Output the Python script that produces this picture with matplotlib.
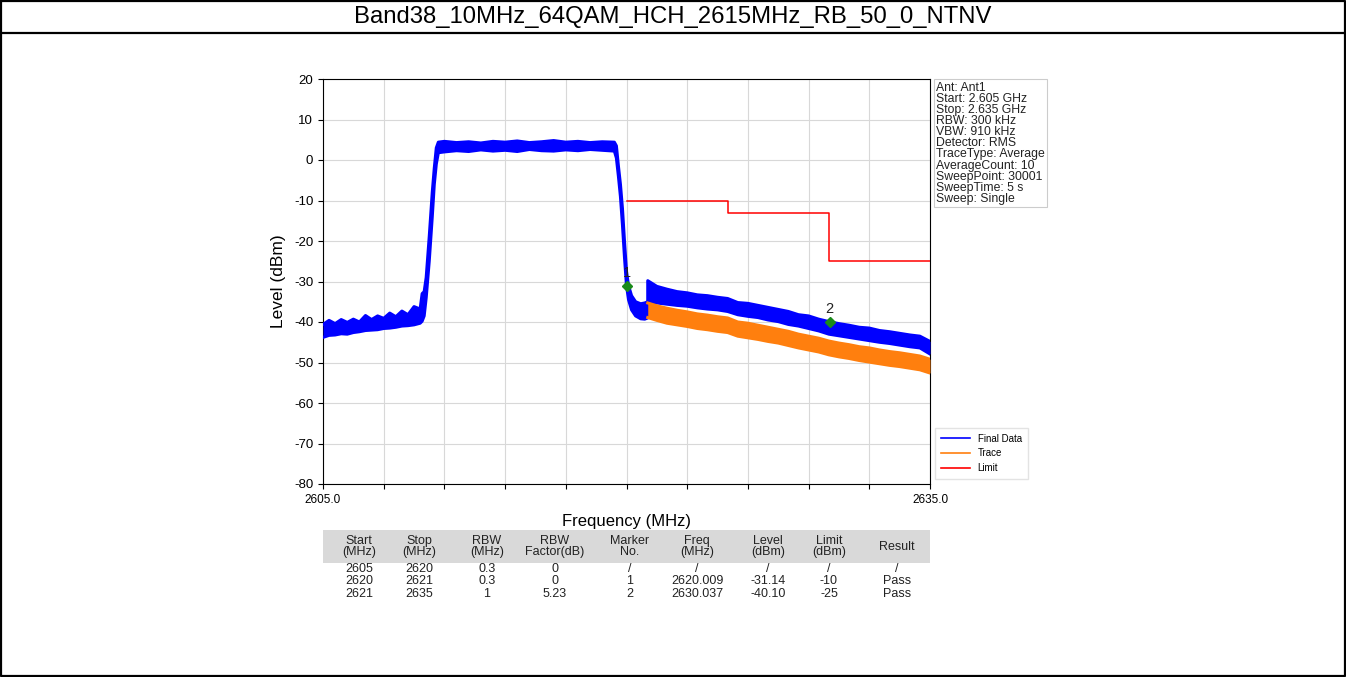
import matplotlib.pyplot as plt
from matplotlib.lines import Line2D
from matplotlib.patches import Rectangle

plt.rcParams['font.family'] = ['Liberation Sans', 'DejaVu Sans']
plt.rcParams['axes.unicode_minus'] = False

title = "Band38_10MHz_64QAM_HCH_2615MHz_RB_50_0_NTNV"

# Final Data: band envelope (upper / lower) of the measured spectrum
fd_freq = [2605.0, 2605.3, 2605.6, 2605.9, 2606.2, 2606.5, 2606.8, 2607.1, 2607.4,
           2607.7, 2608.0, 2608.3, 2608.6, 2608.9, 2609.2, 2609.5, 2609.8,
           2609.9, 2610.0, 2610.1, 2610.25, 2610.4, 2610.5, 2610.6, 2610.7,
           2611.0, 2611.6, 2612.2, 2612.8, 2613.4, 2614.0, 2614.6, 2615.2, 2615.8,
           2616.4, 2617.0, 2617.6, 2618.2, 2618.8, 2619.4,
           2619.5, 2619.6, 2619.7, 2619.8, 2619.9, 2620.0, 2620.1, 2620.25, 2620.45,
           2620.7, 2620.9, 2621.05,
           2621.05, 2621.5, 2622.0, 2622.5, 2623.0, 2623.5, 2624.0, 2624.5, 2625.0,
           2625.5, 2626.0, 2626.5, 2627.0, 2627.5, 2628.0, 2628.5, 2629.0, 2629.5,
           2630.0, 2630.5, 2631.0, 2631.5, 2632.0, 2632.5, 2633.0, 2633.5, 2634.0,
           2634.5, 2635.0]
fd_upper = [-40.6, -39.6, -40.4, -39.4, -40.1, -39.3, -40.0, -38.4, -39.4,
            -38.5, -39.1, -37.8, -38.7, -37.3, -38.2, -36.2, -36.8,
            -33.0, -32.5, -29.0, -19.0, -8.0, -2.0, 3.0, 4.4,
            4.6, 4.3, 4.5, 4.2, 4.6, 4.4, 4.7, 4.3, 4.5,
            4.8, 4.4, 4.6, 4.3, 4.5, 4.4,
            3.5, -1.5, -6.0, -12.0, -20.0, -27.5, -31.0, -33.5, -35.0,
            -35.5, -35.3, -35.0,
            -29.8, -31.2, -31.9, -32.5, -32.8, -33.3, -33.5, -33.9, -34.2,
            -35.2, -35.4, -35.9, -36.4, -36.9, -37.4, -38.2, -38.5, -39.3,
            -39.9, -40.4, -40.8, -41.3, -41.5, -42.1, -42.4, -42.8, -43.2,
            -43.5, -44.8]
fd_lower = [-43.8, -43.3, -43.2, -42.9, -43.0, -42.6, -42.4, -42.1, -42.0,
            -41.9, -41.6, -41.5, -41.3, -41.0, -40.9, -40.7, -40.3,
            -39.8, -38.5, -34.0, -25.0, -14.0, -6.0, -1.0, 1.8,
            2.0, 2.3, 2.1, 2.5, 2.2, 2.4, 2.1, 2.6, 2.3,
            2.2, 2.5, 2.3, 2.6, 2.4, 2.2,
            0.5, -4.0, -9.0, -16.0, -24.0, -31.0, -34.5, -37.0, -38.5,
            -39.2, -39.3, -39.0,
            -35.0, -35.3, -35.6, -35.9, -36.1, -36.5, -36.8, -37.0, -37.4,
            -38.2, -38.6, -38.9, -39.5, -39.9, -40.6, -41.0, -41.6, -42.2,
            -43.0, -43.4, -43.8, -44.2, -44.6, -45.0, -45.3, -45.7, -46.1,
            -46.4, -47.9]

# Trace (before RBW factor) above 2621 MHz
tr_freq = [2621.05, 2621.5, 2622.0, 2622.5, 2623.0, 2623.5, 2624.0, 2624.5, 2625.0,
           2625.5, 2626.0, 2626.5, 2627.0, 2627.5, 2628.0, 2628.5, 2629.0, 2629.5,
           2630.0, 2630.5, 2631.0, 2631.5, 2632.0, 2632.5, 2633.0, 2633.5, 2634.0,
           2634.5, 2635.0]
tr_upper = [-35.3, -36.0, -36.6, -37.1, -37.5, -38.0, -38.3, -38.7, -39.0,
            -40.0, -40.3, -40.8, -41.3, -41.8, -42.3, -43.0, -43.5, -44.0,
            -44.7, -45.2, -45.6, -46.1, -46.4, -46.9, -47.3, -47.6, -48.0,
            -48.4, -49.2]
tr_lower = [-38.9, -39.6, -40.3, -40.7, -41.1, -41.6, -41.9, -42.3, -42.6,
            -43.5, -43.9, -44.3, -44.8, -45.2, -45.8, -46.4, -46.9, -47.4,
            -48.1, -48.6, -49.0, -49.5, -49.9, -50.3, -50.7, -51.0, -51.4,
            -51.8, -52.6]

# Limit mask
limit_edges = [2620, 2625, 2630, 2635]
limit_level = [-10, -13, -25, -25]

# Markers
marker_no = ["1", "2"]
marker_freq = [2620.009, 2630.037]
marker_level = [-31.14, -40.10]

info_lines = ["Ant: Ant1", "Start: 2.605 GHz", "Stop: 2.635 GHz", "RBW: 300 kHz",
              "VBW: 910 kHz", "Detector: RMS", "TraceType: Average",
              "AverageCount: 10", "SweepPoint: 30001", "SweepTime: 5 s",
              "Sweep: Single"]

x_ticks = [2605, 2608, 2611, 2614, 2617, 2620, 2623, 2626, 2629, 2632, 2635]
y_ticks = [20, 10, 0, -10, -20, -30, -40, -50, -60, -70, -80]

table_header = ["Start\n(MHz)", "Stop\n(MHz)", "RBW\n(MHz)", "RBW\nFactor(dB)",
                "Marker\nNo.", "Freq\n(MHz)", "Level\n(dBm)", "Limit\n(dBm)", "Result"]
table_rows = [
    ["2605", "2620", "0.3", "0", "/", "/", "/", "/", "/"],
    ["2620", "2621", "0.3", "0", "1", "2620.009", "-31.14", "-10", "Pass"],
    ["2621", "2635", "1", "5.23", "2", "2630.037", "-40.10", "-25", "Pass"],
]

W, H = 1346, 677
fig = plt.figure(figsize=(W / 100, H / 100), dpi=100)

# page frame and title row
frame = dict(color='black', lw=1.6, transform=fig.transFigure)
fig.add_artist(Line2D([0.001, 0.999, 0.999, 0.001, 0.001],
                      [0.999, 0.999, 0.001, 0.001, 0.999], **frame))
fig.add_artist(Line2D([0, 1], [1 - 33 / H, 1 - 33 / H], **frame))
fig.text(0.5, 1 - 17 / H, title, ha='center', va='center', fontsize=17.2)

ax = fig.add_axes([323 / W, 1 - 484 / H, 607 / W, 405 / H])
blue = '#0000ff'
orange = '#ff7f0e'

ax.fill_between(fd_freq, fd_lower, fd_upper, color=blue, lw=0, zorder=3)
ax.plot(fd_freq, fd_upper, color=blue, lw=2.2, zorder=3)
ax.plot(fd_freq, fd_lower, color=blue, lw=2.2, zorder=3)
ax.fill_between(tr_freq, tr_lower, tr_upper, color=orange, lw=0, zorder=4)
ax.plot(tr_freq, tr_upper, color=orange, lw=2.2, zorder=4)
ax.plot(tr_freq, tr_lower, color=orange, lw=2.2, zorder=4)
ax.step(limit_edges, limit_level, where='post', color='red', lw=1.1, zorder=5)

ax.plot(marker_freq, marker_level, 'D', color='#1a8a1a', ms=5, zorder=6)
for no, f, lv in zip(marker_no, marker_freq, marker_level):
    ax.text(f, lv + 1.5, no, ha='center', va='bottom', fontsize=10.5, color='#222222', zorder=7)

ax.set_xlim(2605, 2635)
ax.set_ylim(-80, 20)
ax.set_xticks(x_ticks)
ax.set_xticklabels(["2605.0"] + [""] * (len(x_ticks) - 2) + ["2635.0"], fontsize=8.5)
ax.set_yticks(y_ticks)
ax.tick_params(axis='y', labelsize=9.5)
ax.grid(True, color='#d8d8d8', lw=0.8)
ax.set_axisbelow(True)
ax.set_xlabel("Frequency (MHz)", fontsize=12, labelpad=6)
ax.set_ylabel("Level (dBm)", fontsize=12.5, labelpad=6)

ax.text(1.01, 0.993, "\n".join(info_lines), transform=ax.transAxes, ha='left', va='top',
        fontsize=8.8, linespacing=0.9, color='#222222',
        bbox=dict(boxstyle='square,pad=0.2', fc='white', ec='#cccccc', lw=0.8))

handles = [Line2D([], [], color=blue, lw=1.2), Line2D([], [], color=orange, lw=1.2),
           Line2D([], [], color='red', lw=1.2)]
ax.legend(handles, ["Final Data", "Trace", "Limit"], loc='lower left',
          bbox_to_anchor=(1.0, 0.0), fontsize=7, frameon=True, fancybox=False,
          edgecolor='#dddddd', handlelength=3, borderpad=0.6, labelspacing=0.5)

# result table under the plot
tax = fig.add_axes([323 / W, 1 - 605 / H, 607 / W, 75 / H])
tax.set_xlim(323, 930)
tax.set_ylim(605, 530)
tax.axis('off')
col_x = [359, 419, 487, 555, 630, 697, 768, 829, 897]
tax.add_patch(Rectangle((323, 530), 607, 33, fc='#d9d9d9', ec='none'))
for x, head in zip(col_x, table_header):
    tax.text(x, 546.5, head, ha='center', va='center', fontsize=9,
             linespacing=0.95, color='#222222')
row_y = [569, 581, 594]
for y, row in zip(row_y, table_rows):
    for x, cell in zip(col_x, row):
        tax.text(x, y, cell, ha='center', va='center', fontsize=9, color='#222222')

fig.savefig("out.png", dpi=100)
